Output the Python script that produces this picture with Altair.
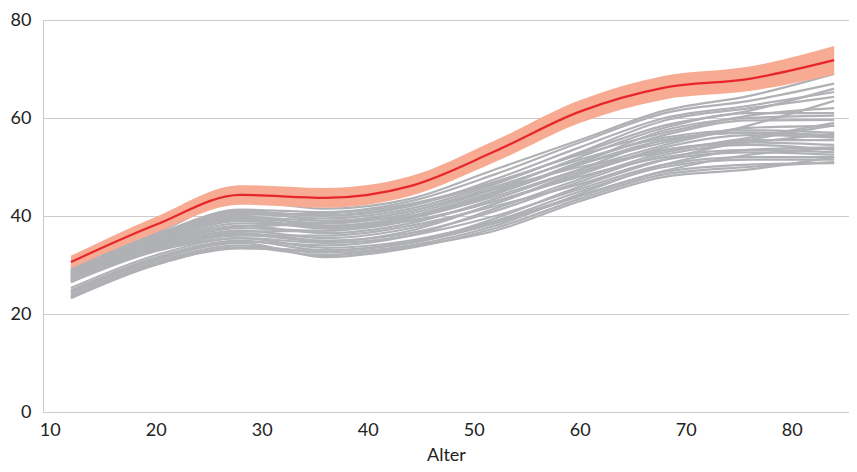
import altair as alt
import pandas as pd

ages = [12, 20, 28, 36, 44, 52, 60, 68, 76, 84]

gray_lines = [
    [29.4, 36.5, 43.0, 41.5, 43.5, 49.5, 55.5, 61.5, 64.5, 69.0],
    [29.0, 36.0, 41.3, 40.8, 43.0, 48.5, 55.0, 61.0, 63.5, 67.0],
    [28.8, 35.6, 41.0, 40.0, 42.0, 47.5, 54.0, 60.0, 62.5, 65.3],
    [28.5, 35.2, 40.5, 39.5, 41.5, 46.5, 53.0, 59.5, 62.0, 64.3],
    [28.2, 35.0, 40.2, 40.5, 42.5, 47.0, 52.5, 57.0, 60.5, 62.0],
    [28.0, 34.8, 39.5, 38.5, 40.5, 45.5, 52.0, 58.0, 61.0, 61.0],
    [27.8, 34.5, 39.0, 37.5, 39.5, 44.5, 51.0, 56.5, 59.5, 59.6],
    [27.6, 34.2, 38.5, 38.0, 40.0, 45.0, 50.5, 55.0, 58.0, 58.4],
    [27.4, 34.0, 38.0, 36.5, 38.5, 43.5, 49.5, 55.5, 57.0, 56.5],
    [27.2, 33.8, 37.5, 37.0, 39.0, 43.0, 48.5, 54.0, 56.5, 56.0],
    [27.0, 33.5, 37.0, 35.5, 37.5, 42.5, 49.0, 53.5, 55.0, 54.5],
    [26.8, 33.2, 36.5, 35.0, 36.5, 41.0, 47.0, 52.5, 54.5, 53.5],
    [26.6, 33.0, 36.0, 36.0, 38.0, 42.0, 46.5, 51.5, 53.0, 52.5],
    [26.5, 32.8, 35.5, 34.5, 36.0, 40.0, 45.5, 50.5, 52.0, 52.0],
    [25.3, 32.0, 35.5, 33.5, 35.0, 39.0, 45.0, 50.0, 51.5, 51.5],
    [24.8, 31.5, 35.0, 33.0, 34.5, 38.5, 44.0, 49.0, 50.5, 50.8],
    [24.4, 31.0, 34.5, 31.6, 33.5, 37.5, 43.5, 48.5, 50.0, 51.0],
    [24.0, 30.6, 34.0, 32.5, 34.0, 38.0, 44.5, 50.5, 53.5, 54.0],
    [23.6, 30.3, 33.6, 32.0, 33.8, 37.0, 43.0, 48.0, 49.5, 52.0],
    [23.2, 30.0, 33.4, 33.0, 34.5, 39.5, 46.0, 51.5, 55.5, 58.5],
    [27.9, 34.7, 39.8, 39.0, 41.0, 46.0, 51.5, 56.0, 57.5, 57.0],
    [28.6, 35.4, 40.8, 40.2, 42.2, 46.8, 52.8, 58.5, 61.5, 66.0],
    [27.3, 33.9, 37.8, 38.5, 41.0, 45.5, 50.0, 53.0, 55.5, 55.5],
    [26.9, 33.4, 36.8, 37.0, 39.5, 44.0, 49.5, 54.5, 58.5, 63.5],
    [28.4, 35.1, 40.0, 38.0, 39.0, 43.0, 48.0, 52.0, 53.5, 53.0],
    [29.2, 36.2, 41.2, 39.0, 40.0, 44.5, 50.5, 55.5, 57.0, 56.2],
    [24.6, 31.2, 34.8, 34.0, 36.0, 41.5, 47.5, 53.0, 56.0, 59.0],
    [26.7, 33.1, 36.2, 34.8, 37.0, 42.5, 48.5, 53.5, 55.0, 56.8],
    [28.1, 34.9, 39.2, 37.8, 39.8, 44.8, 50.8, 57.5, 60.0, 60.5],
    [23.4, 30.1, 33.5, 32.8, 34.8, 38.8, 44.2, 49.2, 52.5, 53.8],
]

red_values = [30.6, 38.2, 44.3, 43.7, 46.1, 53.2, 61.3, 66.2, 68.0, 71.8]
red_low = [29.3, 36.6, 42.3, 41.7, 44.1, 51.0, 59.0, 63.8, 65.5, 68.9]
red_high = [31.9, 39.8, 46.3, 45.7, 48.1, 55.4, 63.6, 68.6, 70.5, 74.7]

rows = []
for i, vals in enumerate(gray_lines):
    for a, v in zip(ages, vals):
        rows.append({"series": f"s{i}", "Alter": a, "value": v})
gray_df = pd.DataFrame(rows)

red_df = pd.DataFrame({"Alter": ages, "value": red_values, "low": red_low, "high": red_high})

FONT = "Lato"

x_enc = alt.X(
    "Alter:Q",
    title="Alter",
    scale=alt.Scale(domain=[9.37, 85.4], nice=False, zero=False),
    axis=alt.Axis(values=[10, 20, 30, 40, 50, 60, 70, 80], grid=False, ticks=False,
                  domainColor="#cccccc", labelPadding=9,
                  titleY=48, titleBaseline="alphabetic"),
)
y_scale = alt.Scale(domain=[0, 80], nice=False)
y_axis = alt.Axis(values=[0, 20, 40, 60, 80], ticks=False, grid=True, gridColor="#cccccc",
                  domainColor="#cccccc", labelPadding=12, title=None)

gray = alt.Chart(gray_df).mark_line(
    color="#b0b1b4", strokeWidth=2.2, interpolate="monotone"
).encode(
    x=x_enc,
    y=alt.Y("value:Q", scale=y_scale, axis=y_axis),
    detail="series:N",
)

band = alt.Chart(red_df).mark_area(
    color="#f6ab92", opacity=1, interpolate="monotone"
).encode(
    x=x_enc,
    y=alt.Y("low:Q", scale=y_scale, axis=y_axis),
    y2="high:Q",
)

red = alt.Chart(red_df).mark_line(
    color="#e8262a", strokeWidth=2.2, interpolate="monotone"
).encode(
    x=x_enc,
    y=alt.Y("value:Q", scale=y_scale, axis=y_axis),
)

chart = alt.layer(gray, band, red).properties(
    width=806,
    height=392,
    autosize=alt.AutoSizeParams(type="none"),
    padding={"left": 35, "top": 12, "right": 0, "bottom": 52},
).configure_view(
    stroke=None
).configure_axis(
    labelFont=FONT, titleFont=FONT, labelFontSize=18, titleFontSize=18,
    labelColor="#222222", titleColor="#222222", titleFontWeight="normal",
    domainWidth=1, gridWidth=1,
)

chart.save("out.html", embed_options={"renderer": "svg", "actions": False})
